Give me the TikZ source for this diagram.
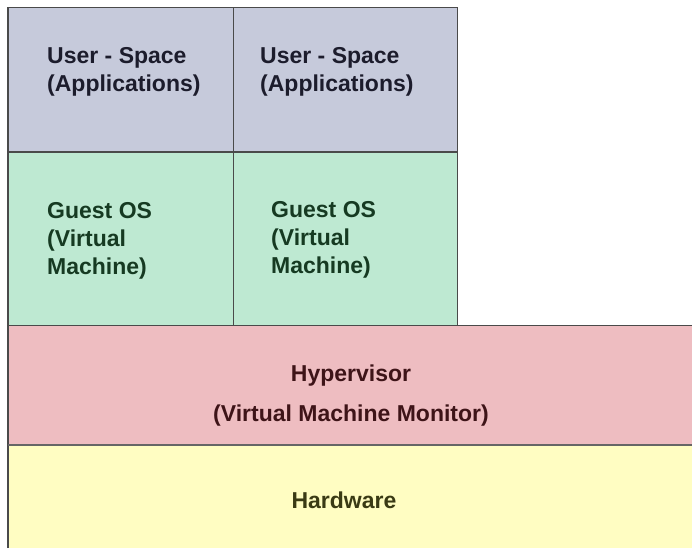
\documentclass[tikz,border=0pt]{standalone}
\usepackage{fontspec}
\setmainfont{Liberation Sans}
\definecolor{userfill}{HTML}{C6CADB}
\definecolor{guestfill}{HTML}{BEE9D2}
\definecolor{hyperfill}{HTML}{EEBDC1}
\definecolor{hwfill}{HTML}{FFFDC2}
\definecolor{usertext}{HTML}{1C1C2C}
\definecolor{guesttext}{HTML}{163A22}
\definecolor{hypertext}{HTML}{3E1418}
\definecolor{hwtext}{HTML}{3A3A14}
\definecolor{edgecol}{HTML}{4A4A4A}
\tikzset{
  layer/.style={draw=none, inner sep=0pt, anchor=south west},
  lbl/.style={font=\bfseries\fontsize{23}{28}\selectfont, inner sep=0pt},
  edge/.style={draw=edgecol, line width=1.4pt},
  softedge/.style={draw=gray!80!black, line width=1.6pt},
}
\begin{document}
\begin{tikzpicture}[x=1pt,y=1pt]
\useasboundingbox (0,0) rectangle (692,548);
% stacked layers
\node[layer, fill=userfill, minimum width=225pt, minimum height=144pt] (us1) at (8,396) {};
\node[layer, fill=userfill, minimum width=224pt, minimum height=144pt] (us2) at (233,396) {};
\node[layer, fill=guestfill, minimum width=225pt, minimum height=174pt] (g1) at (8,222) {};
\node[layer, fill=guestfill, minimum width=224pt, minimum height=174pt] (g2) at (233,222) {};
\node[layer, fill=hyperfill, minimum width=684pt, minimum height=119pt] (hv) at (8,103) {};
\node[layer, fill=hwfill, minimum width=684pt, minimum height=103pt] (hw) at (8,0) {};
% labels
\node[lbl, text=usertext, anchor=west, align=left] (us1t) at (47,476) {User - Space\\(Applications)};
\node[lbl, text=usertext, anchor=west, align=left] (us2t) at (260,476) {User - Space\\(Applications)};
\node[lbl, text=guesttext, anchor=west, align=left] (g1t) at (47,307) {Guest OS\\(Virtual\\Machine)};
\node[lbl, text=guesttext, anchor=west, align=left] (g2t) at (271,308) {Guest OS\\(Virtual\\Machine)};
\node[lbl, text=hypertext, align=center] (hvt) at (351,152) {Hypervisor\\[12pt](Virtual Machine Monitor)};
\node[lbl, text=hwtext] (hwt) at (344,48) {Hardware};
% outlines
\draw[edge] (hw.south west) -- (us1.north west) -- (us2.north east) -- (g2.south east);
\draw[edge] (us1.north east) -- (g1.south east);
\draw[edge] (us1.south west) -- (us2.south east);
\draw[edge] (hv.north west) -- (hv.north east);
\draw[softedge] (hv.south west) -- (hv.south east);
\end{tikzpicture}
\end{document}
